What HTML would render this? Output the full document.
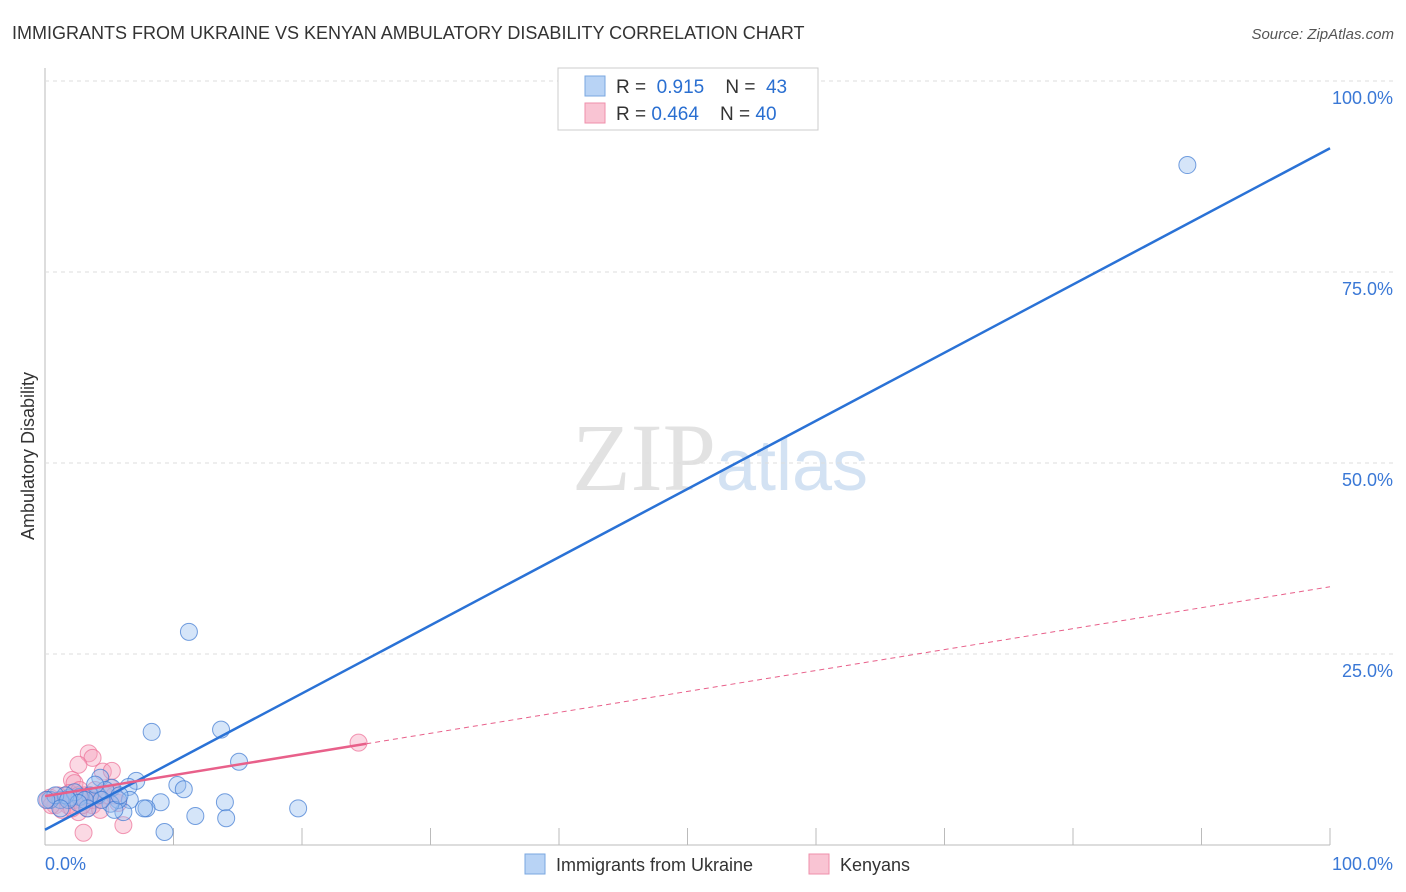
<!DOCTYPE html>
<html><head><meta charset="utf-8"><style>
body{margin:0;background:#fff;font-family:"Liberation Sans",sans-serif;}
svg{display:block}
</style></head><body>
<svg id="chart" width="1406" height="892">
<text x="12" y="39" font-size="18" fill="#333">IMMIGRANTS FROM UKRAINE VS KENYAN AMBULATORY DISABILITY CORRELATION CHART</text>
<text x="1394" y="39" font-size="15" fill="#555" font-style="italic" text-anchor="end">Source: ZipAtlas.com</text>
<text x="0" y="0" transform="translate(34,456) rotate(-90)" font-size="18" fill="#333" text-anchor="middle">Ambulatory Disability</text>
<text x="720" y="490" font-size="96" fill="#e2e2e2" text-anchor="middle" font-family="Liberation Serif,serif">ZIP<tspan fill="#d3e2f3" font-family="Liberation Sans,sans-serif" font-size="72">atlas</tspan></text>
<g id="grid"></g>
<g id="marks"></g>
<g>
<rect x="558" y="68" width="260" height="62" fill="#fff" stroke="#ccc"/>
<rect x="585" y="76" width="20" height="20" fill="#b8d3f5" stroke="#7aa7e0"/>
<text x="616" y="93" font-size="19" fill="#333">R = <tspan fill="#2a6fd1">&#160;0.915</tspan>&#160;&#160;&#160;&#160;N = <tspan fill="#2a6fd1">&#160;43</tspan></text>
<rect x="585" y="103" width="20" height="20" fill="#f9c4d3" stroke="#ef8fab"/>
<text x="616" y="120" font-size="19" fill="#333">R = <tspan fill="#2a6fd1">0.464</tspan>&#160;&#160;&#160;&#160;N = <tspan fill="#2a6fd1">40</tspan></text>
</g>
<g>
<rect x="525" y="854" width="20" height="20" fill="#b8d3f5" stroke="#7aa7e0"/>
<text x="556" y="871" font-size="18" fill="#333">Immigrants from Ukraine</text>
<rect x="809" y="854" width="20" height="20" fill="#f9c4d3" stroke="#ef8fab"/>
<text x="840" y="871" font-size="18" fill="#333">Kenyans</text>
</g>
</svg>
<script>
const yTicks=[25,50,75,100];
const yTickLabels=["25.0%","50.0%","75.0%","100.0%"];
const xTickLabels=["0.0%","100.0%"];
const ukraineX=[88.9,11.2,8.3,13.7,15.1,10.3,10.8,7.1,9.0,7.9,7.7,6.5,6.6,19.7,14.0,14.1,11.7,9.3,6.1,4.3,5.2,5.7,4.1,3.5,2.7,1.9,1.2,0.4,5.1,5.4,4.7,2.3,3.1,1.6,0.8,3.9,4.4,5.8,3.3,2.6,1.8,1.2,0.1];
const ukraineY=[89.0,27.9,14.8,15.1,10.9,7.85,7.3,8.4,5.6,4.8,4.8,7.6,5.9,4.8,5.6,3.5,3.8,1.7,4.3,8.8,7.5,5.9,6.5,6.5,6.3,6.2,5.9,5.9,5.4,4.6,7.2,6.9,5.9,6.5,6.5,7.9,5.9,6.5,4.8,5.5,5.9,4.8,5.9];
const kenyanX=[24.4,3.4,3.7,2.6,2.1,4.5,5.2,2.3,3.5,1.8,3.1,1.2,0.4,3.0,6.1,3.7,5.7,2.6,5.1,4.3,1.6,0.8,1.9,2.7,3.9,4.7,0.2,1.0,3.3,2.3,1.3,3.1,3.7,4.3,5.4,1.8,2.6,0.5,2.1,2.9];
const kenyanY=[13.4,12.0,11.4,10.5,8.5,9.6,9.7,8.1,6.5,5.2,5.9,5.9,6.2,1.6,2.6,5.2,5.5,4.3,7.5,5.9,6.5,5.2,6.8,7.2,7.2,6.5,5.9,6.5,4.8,5.9,4.6,6.5,5.9,4.6,6.5,5.9,6.5,5.2,4.8,5.2];
const ukraineFit=[2.0,91.2];
const kenyanFit=[6.4,33.8];
const kenyanSolidEnd=25;
const NS="http://www.w3.org/2000/svg";
const X=v=>45+v*12.85, Y=v=>845-v*7.64;
function mk(t,a,p){const e=document.createElementNS(NS,t);for(const k in a)e.setAttribute(k,a[k]);p.appendChild(e);return e;}
const grid=document.getElementById('grid'),marks=document.getElementById('marks');
let ax=mk('line',{x1:45,y1:68,x2:45,y2:845,stroke:'#bbb'},grid);


let bx=mk('line',{x1:45,y1:845,x2:1330,y2:845,stroke:'#bbb'},grid);


for(let i=1;i<=10;i++){const t=mk('line',{x1:X(i*10),y1:828,x2:X(i*10),y2:845,stroke:'#bbb'},grid);

}
yTicks.forEach((v,i)=>{const g=mk('line',{x1:45,y1:Y(v),x2:1393,y2:Y(v),stroke:'#ddd','stroke-dasharray':'4,4'},grid);


const t=mk('text',{x:1393,y:Y(v)+23,'font-size':18,fill:'#3a78d6','text-anchor':'end'},grid);
t.textContent=yTickLabels[i];

});
[[0,'start',45],[100,'end',1393]].forEach((d,i)=>{const t=mk('text',{x:d[2],y:870,'font-size':18,fill:'#3a78d6','text-anchor':d[1]},grid);
t.textContent=xTickLabels[i];

});
kenyanX.forEach((v,i)=>{const c=mk('circle',{cx:X(v),cy:Y(kenyanY[i]),r:8.5,fill:'rgba(246,160,188,0.4)',stroke:'rgba(236,110,150,0.7)'},marks);

});
ukraineX.forEach((v,i)=>{const c=mk('circle',{cx:X(v),cy:Y(ukraineY[i]),r:8.5,fill:'rgba(150,190,240,0.4)',stroke:'rgba(60,120,210,0.7)'},marks);

});
const kf=x=>kenyanFit[0]+(kenyanFit[1]-kenyanFit[0])*x/100;
let l1=mk('line',{x1:X(0),y1:Y(ukraineFit[0]),x2:X(100),y2:Y(ukraineFit[1]),stroke:'#2a72d6','stroke-width':2.5},marks);


let l2=mk('line',{x1:X(0),y1:Y(kf(0)),x2:X(kenyanSolidEnd),y2:Y(kf(kenyanSolidEnd)),stroke:'#e8608a','stroke-width':2.5},marks);


let l3=mk('line',{x1:X(kenyanSolidEnd),y1:Y(kf(kenyanSolidEnd)),x2:X(100),y2:Y(kf(100)),stroke:'#e8608a','stroke-width':1,'stroke-dasharray':'5,4'},marks);


</script>
</body></html>
